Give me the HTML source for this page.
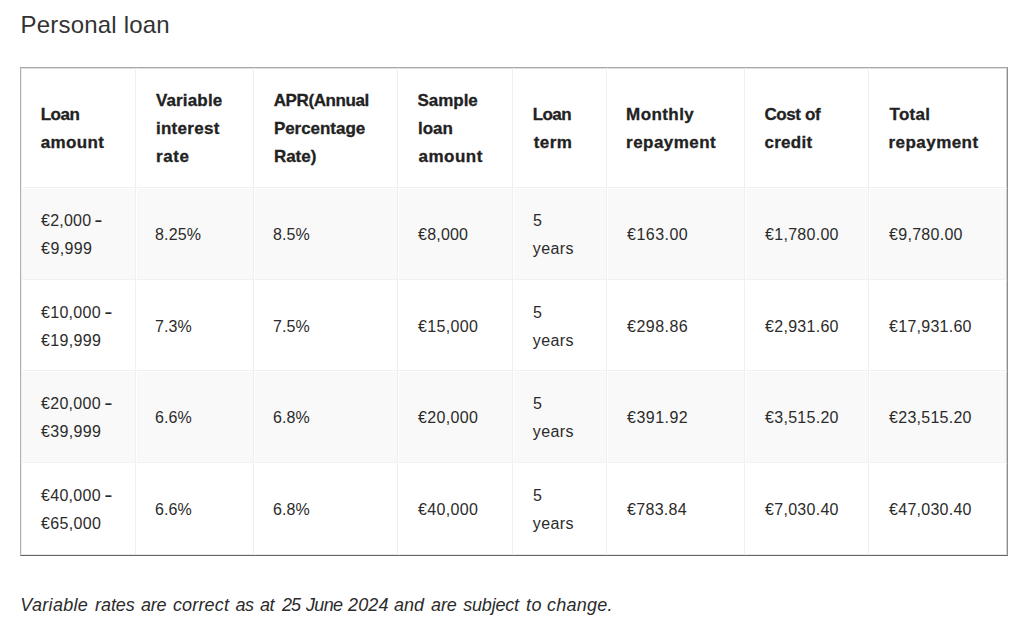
<!DOCTYPE html>
<html lang="en"><head><meta charset="utf-8"><title>Personal loan</title>
<style>
html,body{margin:0;padding:0;background:#fff;}
body{width:1024px;height:625px;position:relative;overflow:hidden;font-family:"Liberation Sans",sans-serif;color:#2b2b2b;}
h2{position:absolute;margin:0;font-weight:400;white-space:nowrap;color:#333;}
.tbl{position:absolute;box-sizing:border-box;background:#fff;border-style:solid;border-width:1px;border-color:#a8a8a8 #8e8e8e #666 #b0b0b0;}
.c{position:absolute;box-sizing:border-box;border-style:solid;border-width:1px;border-color:#fff #efefef #f1f1f1 #fff;}
.h>.c{border-top-color:#dedede;}
.c.f{border-left-color:#eee;}
.c.e{border-right-color:#d0d0d0;}
.z>.c{border-bottom-color:#e6e6e6;}
.s .c{background:#f9f9f9;}
.c>span{position:absolute;white-space:nowrap;line-height:28px;height:28px;}
.h>.c>span{font-weight:700;color:#222;-webkit-text-stroke:0.3px #222;}
.c i{font-style:normal;font-weight:700;display:inline-block;transform:scaleX(.76);transform-origin:0 50%;margin-left:-0.5px;}
p{position:absolute;margin:0;font-style:italic;white-space:nowrap;color:#2b2b2b;}
p span{position:absolute;top:0;}
</style></head><body>
<h2 style="left:20.5px;top:10px;font-size:24px;line-height:30px;letter-spacing:0.2px">Personal loan</h2>
<div class="tbl" role="table" style="left:20px;top:67px;width:988px;height:489px">
<div class="h" role="row">
<div class="c f" role="cell" style="left:0px;top:0px;width:115px;height:120px"><span style="left:18.70px;top:32.00px;font-size:17px;letter-spacing:-0.482px">Loan</span><span style="left:18.70px;top:60.00px;font-size:17px;letter-spacing:0.370px">amount</span></div>
<div class="c" role="cell" style="left:115px;top:0px;width:118px;height:120px"><span style="left:18.90px;top:18.00px;font-size:17px;letter-spacing:0.166px">Variable</span><span style="left:18.90px;top:46.00px;font-size:17px;letter-spacing:0.305px">interest</span><span style="left:18.90px;top:74.00px;font-size:17px;letter-spacing:0.649px">rate</span></div>
<div class="c" role="cell" style="left:233px;top:0px;width:144px;height:120px"><span style="left:18.70px;top:18.00px;font-size:17px;letter-spacing:-0.394px">APR(Annual</span><span style="left:18.90px;top:46.00px;font-size:17px;letter-spacing:-0.038px">Percentage</span><span style="left:18.90px;top:74.00px;font-size:17px;letter-spacing:-0.000px">Rate)</span></div>
<div class="c" role="cell" style="left:377px;top:0px;width:115px;height:120px"><span style="left:18.50px;top:18.00px;font-size:17px;letter-spacing:-0.030px">Sample</span><span style="left:19.10px;top:46.00px;font-size:17px;letter-spacing:-0.084px">loan</span><span style="left:19.50px;top:74.00px;font-size:17px;letter-spacing:0.490px">amount</span></div>
<div class="c" role="cell" style="left:492px;top:0px;width:94px;height:120px"><span style="left:18.70px;top:32.00px;font-size:17px;letter-spacing:-0.551px">Loan</span><span style="left:19.70px;top:60.00px;font-size:17px;letter-spacing:0.451px">term</span></div>
<div class="c" role="cell" style="left:586px;top:0px;width:138px;height:120px"><span style="left:18.10px;top:32.00px;font-size:17px;letter-spacing:0.417px">Monthly</span><span style="left:18.10px;top:60.00px;font-size:17px;letter-spacing:0.450px">repayment</span></div>
<div class="c" role="cell" style="left:724px;top:0px;width:124px;height:120px"><span style="left:18.50px;top:32.00px;font-size:17px;letter-spacing:-0.416px">Cost of</span><span style="left:18.50px;top:60.00px;font-size:17px;letter-spacing:0.250px">credit</span></div>
<div class="c e" role="cell" style="left:848px;top:0px;width:138px;height:120px"><span style="left:19.50px;top:32.00px;font-size:17px;letter-spacing:0.300px">Total</span><span style="left:18.50px;top:60.00px;font-size:17px;letter-spacing:0.454px">repayment</span></div>
</div>
<div class="s" role="row">
<div class="c f" role="cell" style="left:0px;top:120px;width:115px;height:92px"><span style="left:19.10px;top:18.00px;font-size:16px;letter-spacing:0.207px">€2,000 <i>–</i></span><span style="left:19.10px;top:46.00px;font-size:16px;letter-spacing:0.390px">€9,999</span></div>
<div class="c" role="cell" style="left:115px;top:120px;width:118px;height:92px"><span style="left:18.10px;top:32.00px;font-size:16px;letter-spacing:0.100px">8.25%</span></div>
<div class="c" role="cell" style="left:233px;top:120px;width:144px;height:92px"><span style="left:18.10px;top:32.00px;font-size:16px;letter-spacing:0.017px">8.5%</span></div>
<div class="c" role="cell" style="left:377px;top:120px;width:115px;height:92px"><span style="left:19.10px;top:32.00px;font-size:16px;letter-spacing:0.190px">€8,000</span></div>
<div class="c" role="cell" style="left:492px;top:120px;width:94px;height:92px"><span style="left:18.90px;top:18.00px;font-size:16px;letter-spacing:-1.050px">5</span><span style="left:18.70px;top:46.00px;font-size:16px;letter-spacing:0.450px">years</span></div>
<div class="c" role="cell" style="left:586px;top:120px;width:138px;height:92px"><span style="left:19.10px;top:32.00px;font-size:16px;letter-spacing:0.449px">€163.00</span></div>
<div class="c" role="cell" style="left:724px;top:120px;width:124px;height:92px"><span style="left:19.10px;top:32.00px;font-size:16px;letter-spacing:0.275px">€1,780.00</span></div>
<div class="c e" role="cell" style="left:848px;top:120px;width:138px;height:92px"><span style="left:19.10px;top:32.00px;font-size:16px;letter-spacing:0.275px">€9,780.00</span></div>
</div>
<div class="n" role="row">
<div class="c f" role="cell" style="left:0px;top:212px;width:115px;height:91px"><span style="left:19.10px;top:17.50px;font-size:16px;letter-spacing:0.275px">€10,000 <i>–</i></span><span style="left:19.10px;top:45.50px;font-size:16px;letter-spacing:0.318px">€19,999</span></div>
<div class="c" role="cell" style="left:115px;top:212px;width:118px;height:91px"><span style="left:18.10px;top:31.50px;font-size:16px;letter-spacing:0.017px">7.3%</span></div>
<div class="c" role="cell" style="left:233px;top:212px;width:144px;height:91px"><span style="left:18.10px;top:31.50px;font-size:16px;letter-spacing:0.017px">7.5%</span></div>
<div class="c" role="cell" style="left:377px;top:212px;width:115px;height:91px"><span style="left:19.10px;top:31.50px;font-size:16px;letter-spacing:0.318px">€15,000</span></div>
<div class="c" role="cell" style="left:492px;top:212px;width:94px;height:91px"><span style="left:18.90px;top:17.50px;font-size:16px;letter-spacing:-1.050px">5</span><span style="left:18.70px;top:45.50px;font-size:16px;letter-spacing:0.450px">years</span></div>
<div class="c" role="cell" style="left:586px;top:212px;width:138px;height:91px"><span style="left:19.10px;top:31.50px;font-size:16px;letter-spacing:0.449px">€298.86</span></div>
<div class="c" role="cell" style="left:724px;top:212px;width:124px;height:91px"><span style="left:19.10px;top:31.50px;font-size:16px;letter-spacing:0.275px">€2,931.60</span></div>
<div class="c e" role="cell" style="left:848px;top:212px;width:138px;height:91px"><span style="left:19.10px;top:31.50px;font-size:16px;letter-spacing:0.260px">€17,931.60</span></div>
</div>
<div class="s" role="row">
<div class="c f" role="cell" style="left:0px;top:303px;width:115px;height:92px"><span style="left:19.10px;top:18.00px;font-size:16px;letter-spacing:0.275px">€20,000 <i>–</i></span><span style="left:19.10px;top:46.00px;font-size:16px;letter-spacing:0.318px">€39,999</span></div>
<div class="c" role="cell" style="left:115px;top:303px;width:118px;height:92px"><span style="left:18.10px;top:32.00px;font-size:16px;letter-spacing:0.017px">6.6%</span></div>
<div class="c" role="cell" style="left:233px;top:303px;width:144px;height:92px"><span style="left:18.10px;top:32.00px;font-size:16px;letter-spacing:0.017px">6.8%</span></div>
<div class="c" role="cell" style="left:377px;top:303px;width:115px;height:92px"><span style="left:19.10px;top:32.00px;font-size:16px;letter-spacing:0.318px">€20,000</span></div>
<div class="c" role="cell" style="left:492px;top:303px;width:94px;height:92px"><span style="left:18.90px;top:18.00px;font-size:16px;letter-spacing:-1.050px">5</span><span style="left:18.70px;top:46.00px;font-size:16px;letter-spacing:0.450px">years</span></div>
<div class="c" role="cell" style="left:586px;top:303px;width:138px;height:92px"><span style="left:19.10px;top:32.00px;font-size:16px;letter-spacing:0.449px">€391.92</span></div>
<div class="c" role="cell" style="left:724px;top:303px;width:124px;height:92px"><span style="left:19.10px;top:32.00px;font-size:16px;letter-spacing:0.275px">€3,515.20</span></div>
<div class="c e" role="cell" style="left:848px;top:303px;width:138px;height:92px"><span style="left:19.10px;top:32.00px;font-size:16px;letter-spacing:0.260px">€23,515.20</span></div>
</div>
<div class="n z" role="row">
<div class="c f" role="cell" style="left:0px;top:395px;width:115px;height:92px"><span style="left:19.10px;top:18.00px;font-size:16px;letter-spacing:0.275px">€40,000 <i>–</i></span><span style="left:19.10px;top:46.00px;font-size:16px;letter-spacing:0.318px">€65,000</span></div>
<div class="c" role="cell" style="left:115px;top:395px;width:118px;height:92px"><span style="left:18.10px;top:32.00px;font-size:16px;letter-spacing:0.017px">6.6%</span></div>
<div class="c" role="cell" style="left:233px;top:395px;width:144px;height:92px"><span style="left:18.10px;top:32.00px;font-size:16px;letter-spacing:0.017px">6.8%</span></div>
<div class="c" role="cell" style="left:377px;top:395px;width:115px;height:92px"><span style="left:19.10px;top:32.00px;font-size:16px;letter-spacing:0.318px">€40,000</span></div>
<div class="c" role="cell" style="left:492px;top:395px;width:94px;height:92px"><span style="left:18.90px;top:18.00px;font-size:16px;letter-spacing:-1.050px">5</span><span style="left:18.70px;top:46.00px;font-size:16px;letter-spacing:0.450px">years</span></div>
<div class="c" role="cell" style="left:586px;top:395px;width:138px;height:92px"><span style="left:19.10px;top:32.00px;font-size:16px;letter-spacing:0.282px">€783.84</span></div>
<div class="c" role="cell" style="left:724px;top:395px;width:124px;height:92px"><span style="left:19.10px;top:32.00px;font-size:16px;letter-spacing:0.275px">€7,030.40</span></div>
<div class="c e" role="cell" style="left:848px;top:395px;width:138px;height:92px"><span style="left:19.10px;top:32.00px;font-size:16px;letter-spacing:0.260px">€47,030.40</span></div>
</div>
</div>
<p style="left:0;top:591px;width:1024px;height:28px;font-size:18px;line-height:28px"><span style="left:20.34px;letter-spacing:0.310px">Variable</span> <span style="left:94.96px;letter-spacing:-0.035px">rates</span> <span style="left:141.12px;letter-spacing:-0.250px">are</span> <span style="left:172.98px;letter-spacing:0.150px">correct</span> <span style="left:235.38px;letter-spacing:-0.350px">as</span> <span style="left:259.96px;letter-spacing:-0.350px">at</span> <span style="left:281.92px;letter-spacing:-0.900px">25</span> <span style="left:306.02px;letter-spacing:-0.700px">June</span> <span style="left:348.06px;letter-spacing:0.150px">2024</span> <span style="left:394.02px;letter-spacing:-0.020px">and</span> <span style="left:431.12px;letter-spacing:-0.200px">are</span> <span style="left:463.28px;letter-spacing:-0.206px">subject</span> <span style="left:525.92px;letter-spacing:0.600px">to</span> <span style="left:547.06px;letter-spacing:0.217px">change.</span></p>
</body></html>
